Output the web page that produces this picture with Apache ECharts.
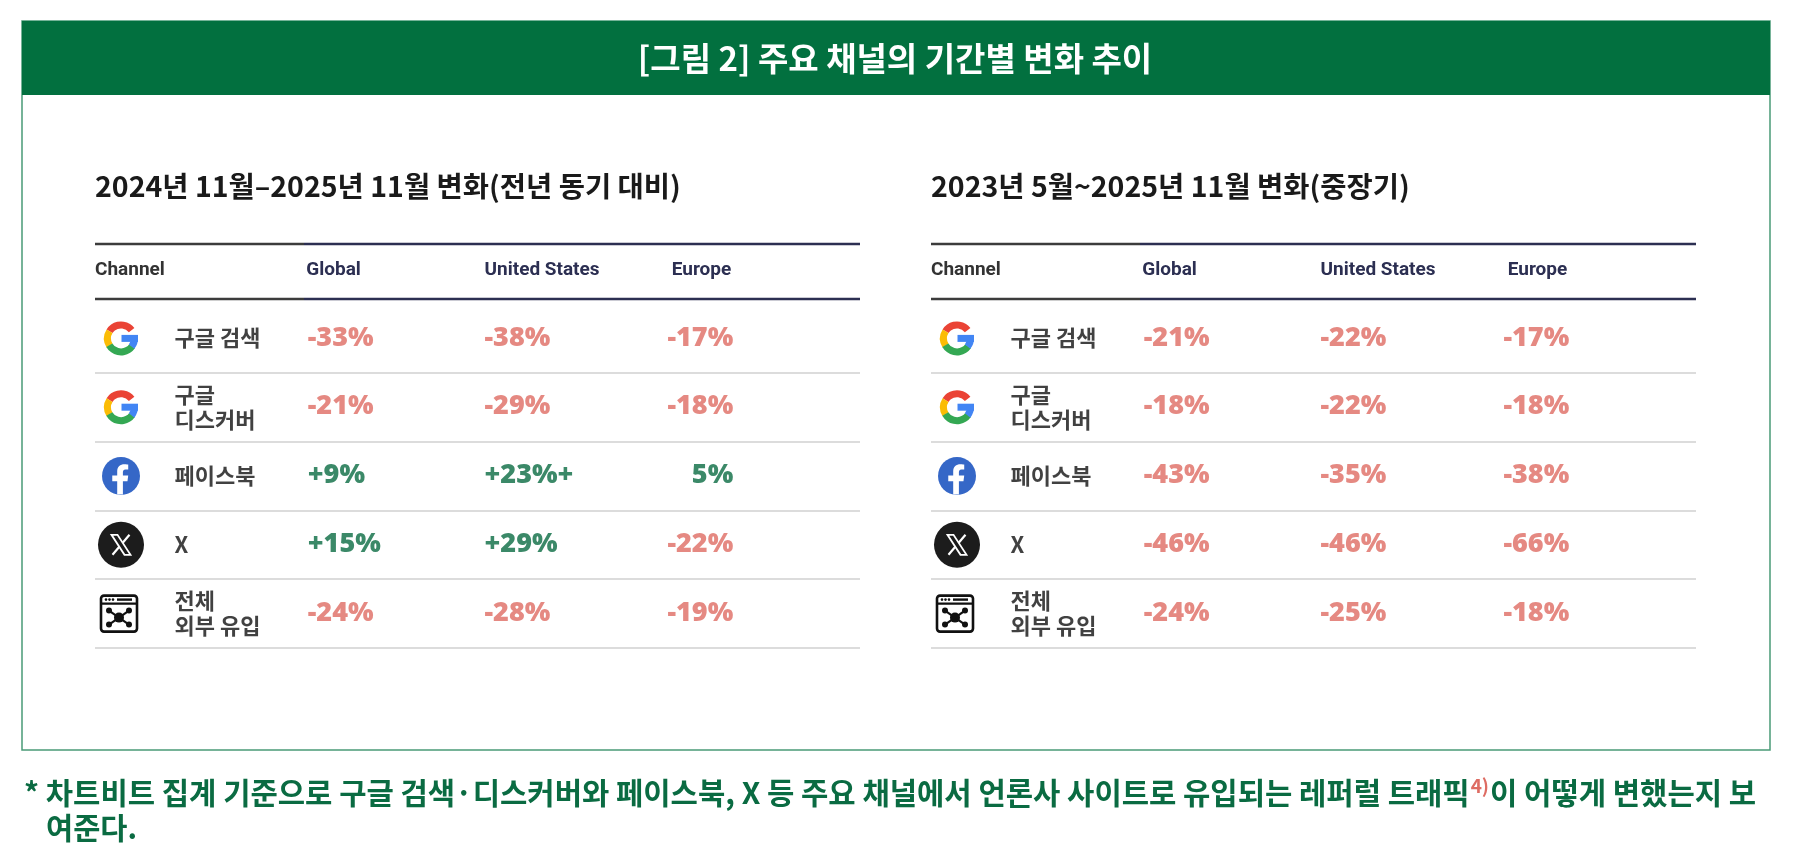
<!DOCTYPE html>
<html>
<head>
<meta charset="utf-8">
<script src="https://cdn.jsdelivr.net/npm/echarts@6/dist/echarts.min.js"></script>
<style>
html,body{margin:0;padding:0;background:#fff;}
#chart{width:1795px;height:859px;}
</style>
</head>
<body>
<div id="chart"></div>
<script>
// ---------- data ----------
const TITLE = '[그림 2] 주요 채널의 기간별 변화 추이';
const SUBTITLE_YOY = '2024년 11월–2025년 11월 변화(전년 동기 대비)';
const SUBTITLE_LONG = '2023년 5월~2025년 11월 변화(중장기)';
const COLUMNS = ['Channel', 'Global', 'United States', 'Europe'];
const CHANNELS = ['구글 검색', '구글\n디스커버', '페이스북', 'X', '전체\n외부 유입'];
const CHANNEL_ICONS = ['google', 'google', 'facebook', 'x', 'web'];

const yoyGlobal = [-33, -21, 9, 15, -24];
const yoyUS = [-38, -29, 23, 29, -28];
const yoyEurope = [-17, -18, 5, -22, -19];
// printed exactly as in the source (quirks)
const yoyPrinted = { 'United States': { 2: '+23%+' }, 'Europe': { 2: '5%' } };

const longGlobal = [-21, -18, -43, -46, -24];
const longUS = [-22, -22, -35, -46, -25];
const longEurope = [-17, -18, -38, -66, -18];
const longPrinted = {};

const NOTE_A = '* 차트비트 집계 기준으로 구글 검색·디스커버와 페이스북, X 등 주요 채널에서 언론사 사이트로 유입되는 레퍼럴 트래픽';
const NOTE_SUP = '4)';
const NOTE_B = '이 어떻게 변했는지 보';
const NOTE_C = '여준다.';

// ---------- styles ----------
const KR = '"Noto Sans CJK KR", "Noto Sans", sans-serif';
const NUM = '"Open Sans", "DejaVu Sans", sans-serif';
const HEAD = 'Roboto, "Noto Sans", sans-serif';
const RED = '#de6c63';
const GREEN = '#0a6b42';
const NAVY = '#2c2f52';
const GRAY_LINE = '#3c3c3c';

const chart = echarts.init(document.getElementById('chart'));

const fmt = v => (v > 0 ? '+' : '') + v + '%';

const tables = [
  { left: 95, sub: SUBTITLE_YOY, vals: [yoyGlobal, yoyUS, yoyEurope], printed: yoyPrinted },
  { left: 931, sub: SUBTITLE_LONG, vals: [longGlobal, longUS, longEurope], printed: longPrinted }
];
const TABLE_W = 765;
const HEAD_TOP = 244;
const HEAD_BOTTOM = 299;
const GRID_TOP = 304;
const GRID_H = 344;

function rad(d) { return d * Math.PI / 180; }

function renderIcon(params, api) {
  const pt = api.coord([api.value(0), api.value(1)]);
  const kind = CHANNEL_ICONS[api.value(2)];
  const cy = pt[1];
  let cx = pt[0] + 26;
  const ch = [];
  if (kind === 'google') {
    const seg = (a, b, c) => ({ type: 'sector', shape: { cx, cy, r: 17, r0: 10, startAngle: rad(a), endAngle: rad(b), clockwise: true }, style: { fill: c } });
    ch.push(seg(-148, -38, '#EA4335'));
    ch.push(seg(148, 212, '#FBBC05'));
    ch.push(seg(35, 150, '#34A853'));
    ch.push(seg(-2, 38, '#4285F4'));
    ch.push({ type: 'rect', shape: { x: cx + 0.5, y: cy - 3.5, width: 16.5, height: 7 }, style: { fill: '#4285F4' } });
  } else if (kind === 'facebook') {
    const r = 19, d = 2 * r;
    ch.push({ type: 'circle', shape: { cx, cy, r }, style: { fill: '#3567c7' } });
    ch.push({
      type: 'path',
      shape: {
        pathData: 'M40 99 L40 64 L27 64 L27 49 L40 49 L40 38 C40 25 48 19 59 19 C64 19 69 20 69 20 L69 33 L62 33 C56 33 55 37 55 41 L55 49 L69 49 L67 64 L55 64 L55 99 Z',
        x: cx - r + 0.27 * d, y: cy - r + 0.19 * d, width: 0.42 * d, height: 0.80 * d, layout: 'cover'
      },
      style: { fill: '#fff' }
    });
  } else if (kind === 'x') {
    ch.push({ type: 'circle', shape: { cx, cy, r: 23 }, style: { fill: '#1c1c1c' } });
    ch.push({ type: 'line', shape: { x1: cx + 8.5, y1: cy - 10, x2: cx - 8.5, y2: cy + 10 }, style: { stroke: '#fff', lineWidth: 2.2 } });
    ch.push({ type: 'polygon', shape: { points: [[cx - 9.5, cy - 10], [cx - 3.5, cy - 10], [cx + 9.5, cy + 10], [cx + 3.5, cy + 10]] }, style: { fill: '#1c1c1c', stroke: '#fff', lineWidth: 1.8 } });
  } else {
    cx = pt[0] + 24;
    ch.push({ type: 'rect', shape: { x: cx - 18, y: cy - 18, width: 36, height: 36, r: 3 }, style: { fill: '#fff', stroke: '#111', lineWidth: 2.6 } });
    ch.push({ type: 'line', shape: { x1: cx - 18, y1: cy - 10, x2: cx + 18, y2: cy - 10 }, style: { stroke: '#111', lineWidth: 2.2 } });
    [-13, -9.5, -6].forEach(dx => ch.push({ type: 'circle', shape: { cx: cx + dx, cy: cy - 14, r: 1.3 }, style: { fill: '#111' } }));
    ch.push({ type: 'rect', shape: { x: cx - 2, y: cy - 15.2, width: 15, height: 2.4 }, style: { fill: '#111' } });
    const c0 = [cx, cy + 4];
    const nodes = [[cx - 10, cy - 3], [cx + 10, cy - 3], [cx - 10, cy + 11], [cx + 10, cy + 11]];
    nodes.forEach(n => ch.push({ type: 'line', shape: { x1: c0[0], y1: c0[1], x2: n[0], y2: n[1] }, style: { stroke: '#111', lineWidth: 2.2 } }));
    nodes.forEach(n => ch.push({ type: 'circle', shape: { cx: n[0], cy: n[1], r: 3 }, style: { fill: '#111' } }));
    ch.push({ type: 'circle', shape: { cx: c0[0], cy: c0[1], r: 5 }, style: { fill: '#111' } });
  }
  return { type: 'group', children: ch };
}

const grids = [], xAxes = [], yAxes = [], series = [], graphics = [];

// frame + header band
graphics.push({ type: 'rect', shape: { x: 22, y: 21, width: 1748, height: 729 }, style: { fill: '#fff', stroke: '#4a9b77', lineWidth: 1.5 }, z: 0 });
graphics.push({ type: 'rect', shape: { x: 22, y: 21, width: 1748, height: 74 }, style: { fill: '#02703f' }, z: 1 });
graphics.push({ type: 'text', x: 895, y: 58, style: { text: TITLE, fill: '#fff', font: 'bold 33px ' + KR, align: 'center', verticalAlign: 'middle' }, z: 2 });

// value columns label anchors (relative to category point)
const colLabel = [
  { pos: [22, 0], align: 'left' },
  { pos: [7.5, 0], align: 'left' },
  { pos: [65, 0], align: 'right' }
];

tables.forEach((t, ti) => {
  grids.push({ left: t.left, top: GRID_TOP, width: TABLE_W, height: GRID_H });
  xAxes.push({
    gridIndex: ti, type: 'category', data: COLUMNS.concat(['']), boundaryGap: false, position: 'top',
    axisLine: { show: false }, axisTick: { show: false }, splitLine: { show: false },
    axisLabel: {
      show: true, interval: 0, margin: GRID_TOP - 270, align: 'left', verticalAlign: 'middle',
      formatter: (v, i) => v ? '{c' + i + '|' + v + '}' : '',
      rich: {
        c0: { color: '#333', fontSize: 19, fontWeight: 'bold', fontFamily: HEAD },
        c1: { color: NAVY, fontSize: 19, fontWeight: 'bold', fontFamily: HEAD, padding: [0, 0, 0, 20] },
        c2: { color: NAVY, fontSize: 19, fontWeight: 'bold', fontFamily: HEAD, padding: [0, 0, 0, 7] },
        c3: { color: NAVY, fontSize: 19, fontWeight: 'bold', fontFamily: HEAD, padding: [0, 0, 0, 3] }
      }
    }
  });
  yAxes.push({
    gridIndex: ti, type: 'category', data: CHANNELS, inverse: true, boundaryGap: true,
    axisLine: { show: false }, axisTick: { show: false }, axisLabel: { show: false },
    splitLine: { show: true, interval: 0, lineStyle: { color: '#dcdcdc', width: 2 } }
  });

  // subtitle
  graphics.push({ type: 'text', x: t.left, y: 186, style: { text: t.sub, fill: '#1a1a1a', font: 'bold 28.5px ' + KR, align: 'left', verticalAlign: 'middle' }, z: 2 });
  // mask the grid's top split line (the header rule sits above it)
  graphics.push({ type: 'rect', shape: { x: t.left - 2, y: GRID_TOP - 2, width: TABLE_W + 4, height: 4 }, style: { fill: '#fff' }, z: 4 });
  // header rules
  [HEAD_TOP, HEAD_BOTTOM].forEach(y => {
    graphics.push({ type: 'line', shape: { x1: t.left, y1: y, x2: t.left + 209, y2: y }, style: { stroke: GRAY_LINE, lineWidth: 2.5 }, z: 5 });
    graphics.push({ type: 'line', shape: { x1: t.left + 209, y1: y, x2: t.left + TABLE_W, y2: y }, style: { stroke: NAVY, lineWidth: 2.5 }, z: 5 });
  });

  // icons
  series.push({
    type: 'custom', xAxisIndex: ti, yAxisIndex: ti, silent: true, clip: false,
    data: CHANNEL_ICONS.map((ic, i) => [0, i, i]),
    renderItem: renderIcon
  });
  // channel names
  series.push({
    type: 'scatter', xAxisIndex: ti, yAxisIndex: ti, silent: true, symbolSize: 1,
    itemStyle: { color: 'rgba(0,0,0,0)' },
    data: CHANNELS.map((c, i) => [0, i]),
    label: {
      show: true, position: [80, 0], align: 'left', verticalAlign: 'middle',
      formatter: p => CHANNELS[p.data[1]],
      color: '#111', fontSize: 22, fontWeight: 'bold', fontFamily: KR, lineHeight: 25
    }
  });
  // values
  t.vals.forEach((arr, k) => {
    const colName = COLUMNS[k + 1];
    const pr = t.printed[colName] || {};
    series.push({
      type: 'scatter', xAxisIndex: ti, yAxisIndex: ti, silent: true, symbolSize: 1,
      itemStyle: { color: 'rgba(0,0,0,0)' },
      data: arr.map((v, i) => [k + 1, i, v]),
      label: {
        show: true, position: colLabel[k].pos, align: colLabel[k].align, verticalAlign: 'middle',
        formatter: p => {
          const v = p.data[2], i = p.data[1];
          const txt = pr[i] !== undefined ? pr[i] : fmt(v);
          return (v < 0 ? '{n|' : '{p|') + txt + '}';
        },
        rich: {
          n: { color: RED, fontSize: 27, fontWeight: 800, fontFamily: NUM },
          p: { color: GREEN, fontSize: 27, fontWeight: 800, fontFamily: NUM }
        }
      }
    });
  });
});

// footnote
graphics.push({
  type: 'text', x: 24, y: 793,
  style: {
    text: '{a|' + NOTE_A + '}{s|' + NOTE_SUP + '}{a|' + NOTE_B + '}',
    align: 'left', verticalAlign: 'middle',
    rich: {
      a: { fill: GREEN, font: 'bold 29.7px ' + KR },
      s: { fill: RED, font: 'bold 19px ' + KR, verticalAlign: 'top', padding: [0, 1, 14, 1] }
    }
  }, z: 2
});
graphics.push({ type: 'text', x: 46, y: 828, style: { text: NOTE_C, fill: GREEN, font: 'bold 29.5px ' + KR, align: 'left', verticalAlign: 'middle' }, z: 2 });

chart.setOption({
  animation: false,
  backgroundColor: '#fff',
  grid: grids,
  xAxis: xAxes,
  yAxis: yAxes,
  series: series,
  graphic: { elements: graphics }
});
</script>
</body>
</html>
